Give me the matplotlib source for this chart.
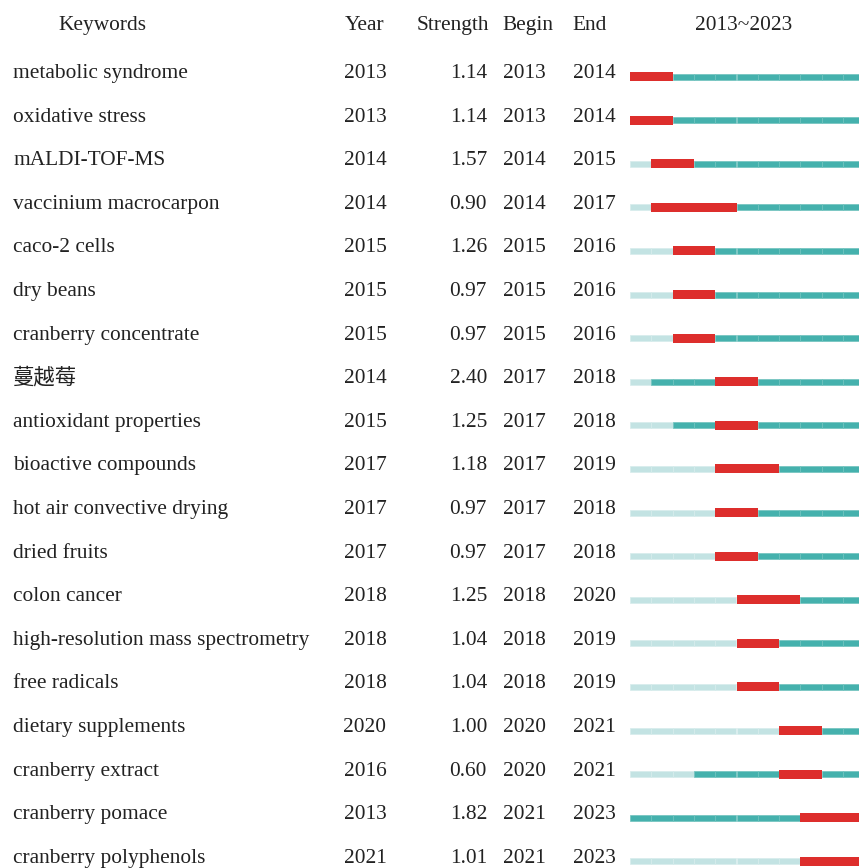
import numpy as np
import matplotlib.pyplot as plt

keywords = ["metabolic syndrome", "oxidative stress", "mALDI-TOF-MS", "vaccinium macrocarpon",
            "caco-2 cells", "dry beans", "cranberry concentrate", "蔓越莓", "antioxidant properties",
            "bioactive compounds", "hot air convective drying", "dried fruits", "colon cancer",
            "high-resolution mass spectrometry", "free radicals", "dietary supplements",
            "cranberry extract", "cranberry pomace", "cranberry polyphenols"]
years = [2013, 2013, 2014, 2014, 2015, 2015, 2015, 2014, 2015, 2017, 2017, 2017, 2018, 2018, 2018, 2020, 2016, 2013, 2021]
strength = [1.14, 1.14, 1.57, 0.90, 1.26, 0.97, 0.97, 2.40, 1.25, 1.18, 0.97, 0.97, 1.25, 1.04, 1.04, 1.00, 0.60, 1.82, 1.01]
begin = [2013, 2013, 2014, 2014, 2015, 2015, 2015, 2017, 2017, 2017, 2017, 2017, 2018, 2018, 2018, 2020, 2020, 2021, 2021]
end = [2014, 2014, 2015, 2017, 2016, 2016, 2016, 2018, 2018, 2019, 2018, 2018, 2020, 2019, 2019, 2021, 2021, 2023, 2023]
first_year, last_year = 2013, 2023

W, H = 859, 868
fig = plt.figure(figsize=(W / 100, H / 100), dpi=100)
fam = ["Liberation Serif", "Noto Sans CJK SC"]
fs = 15.4
tc = "#222222"

ax = fig.add_axes([0, 0, 1, 1])
ax.set_xlim(0, W)
ax.set_ylim(H, 0)
ax.axis("off")

row0, step = 70, 43.6
rows = row0 + step * np.arange(len(keywords))

def txt(x, y, s, ha):
    ax.text(x, y, s, ha=ha, va="baseline", fontsize=fs, family=fam, color=tc)

# header
hy = 30
txt(102, hy, "Keywords", "center")
txt(365, hy, "Year", "center")
txt(453, hy, "Strength", "center")
txt(528, hy, "Begin", "center")
txt(590, hy, "End", "center")
txt(744, hy, f"{first_year}~{last_year}", "center")

for i, y in enumerate(rows):
    yb = y + 8
    txt(13, yb, keywords[i], "left")
    txt(365, yb, str(years[i]), "center")
    txt(487, yb, f"{strength[i]:.2f}", "right")
    txt(524, yb, str(begin[i]), "center")
    txt(594, yb, str(end[i]), "center")

# burst bars
year_w = 21.3
n_years = last_year - first_year + 1
bx = fig.add_axes([630 / W, 0, year_w * n_years / W, 1])
bx.set_xlim(first_year, last_year + 1)
bx.set_ylim(H, 0)
bx.axis("off")

for i, y in enumerate(rows):
    yb = y + 6.5
    for yr in range(first_year, last_year + 1):
        if begin[i] <= yr <= end[i]:
            continue
        if yr < years[i]:
            bx.barh(yb, 1, left=yr, height=6, color="#c3e3e3", edgecolor="#d6ecec", linewidth=0.5)
        else:
            bx.barh(yb, 1, left=yr, height=6, color="#45b1ad", edgecolor="#6fc2be", linewidth=0.5)
    bx.barh(yb, end[i] - begin[i] + 1, left=begin[i], height=9, color="#dd2e2c", linewidth=0)

fig.savefig("out.png", dpi=100)
